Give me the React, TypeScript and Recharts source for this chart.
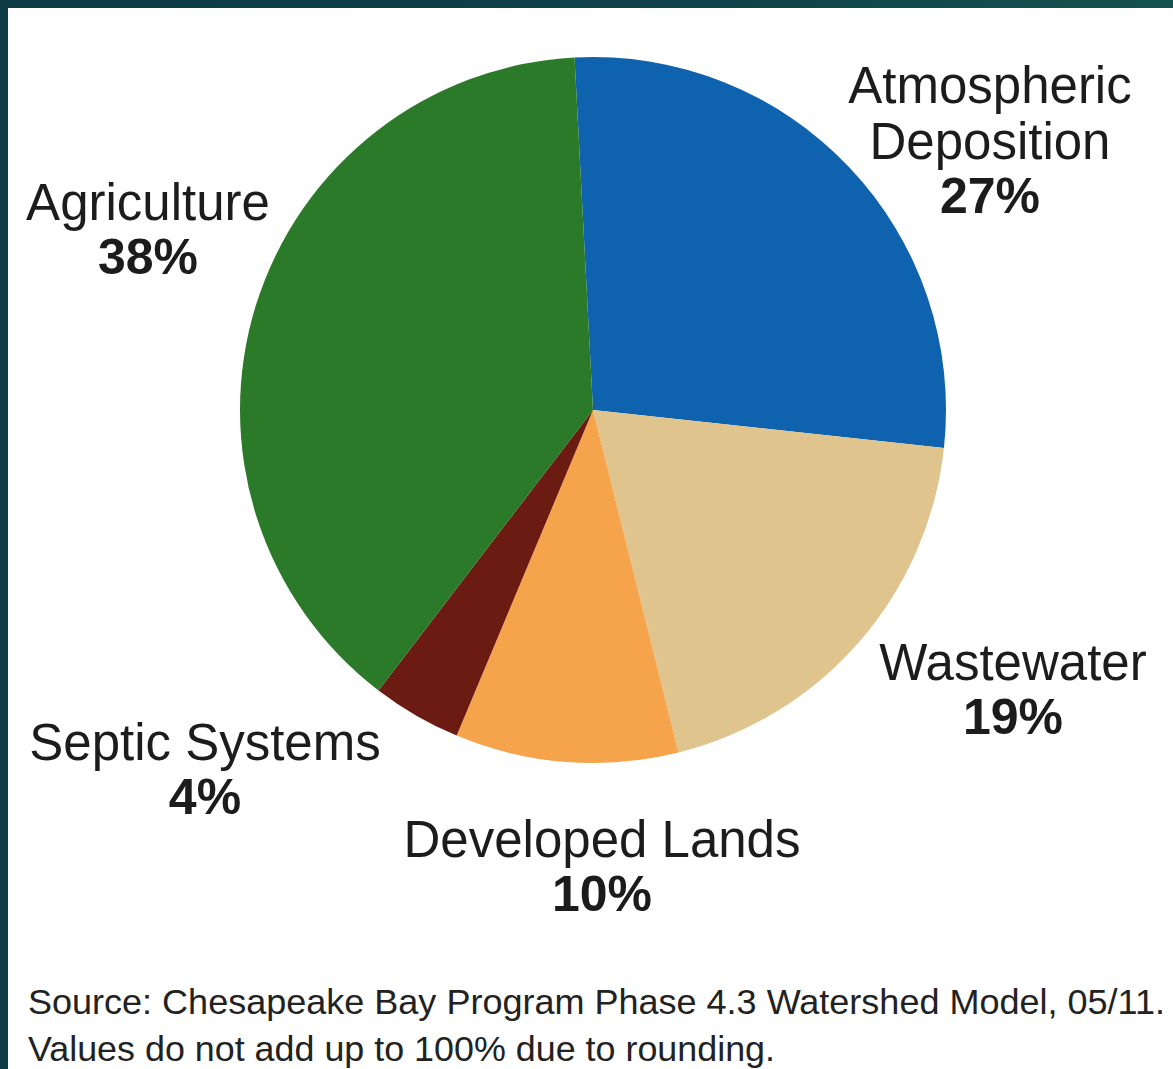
import { PieChart, Pie, Cell } from "recharts";

// Nitrogen sources, Chesapeake Bay watershed (values from the figure, sum 98)
const SOURCES = ["Atmospheric Deposition", "Wastewater", "Developed Lands", "Septic Systems", "Agriculture"];
const SHARES = [27, 19, 10, 4, 38];
const LABEL_LINES = [["Atmospheric", "Deposition"], ["Wastewater"], ["Developed Lands"], ["Septic Systems"], ["Agriculture"]];
const SLICE_COLORS = ["#0f62ae", "#dfc48d", "#f6a44b", "#6b1b12", "#2b7a29"];
const FOOTNOTES = [
  "Source: Chesapeake Bay Program Phase 4.3 Watershed Model, 05/11.",
  "Values do not add up to 100% due to rounding.",
];

const W = 1173;
const H = 1069;
const CX = 593;
const CY = 410;
const R = 353;
const START = 93;

// label placement relative to the pie centre: [dx of text centre, baseline dy of first line]
const LABEL_OFFSETS: [number, number][] = [
  [397, -307],
  [420, 270],
  [9, 447],
  [-388, 350],
  [-445, -190],
];

const LABEL_FONT = "'Liberation Sans', Arial, sans-serif";
const FOOT_FONT = "'Liberation Sans Narrow', 'Liberation Sans', Arial, sans-serif";
const LINE_H = 56;

const data = SOURCES.map((name, i) => ({ name, value: SHARES[i] }));

function SliceLabel(props: any) {
  const { cx, cy, index } = props;
  const [dx, dy] = LABEL_OFFSETS[index];
  const lines = LABEL_LINES[index];
  const x = cx + dx;
  return (
    <g>
      {lines.map((t, j) => (
        <text key={j} x={x} y={cy + dy + j * LINE_H} textAnchor="middle" fontFamily={LABEL_FONT} fontSize={51} fill="#1c1c1c">
          {t}
        </text>
      ))}
      <text x={x} y={cy + dy + lines.length * LINE_H - 2} textAnchor="middle" fontFamily={LABEL_FONT} fontSize={50} fontWeight="bold" fill="#1c1c1c">
        {SHARES[index]}%
      </text>
    </g>
  );
}

export default function App() {
  return (
    <div style={{ position: "fixed", left: 0, top: 0, width: W, height: H, background: "#ffffff", overflow: "hidden" }}>
      <div style={{ position: "absolute", left: 0, top: 0, width: W, height: 8, background: "linear-gradient(90deg, #0e3a45, #0f4248 60%, #14524f)" }} />
      <div style={{ position: "absolute", left: 0, top: 0, width: 8, height: H, background: "#0e3a45" }} />
      <div style={{ position: "absolute", left: 0, top: 0 }}>
        <PieChart width={W} height={H} margin={{ top: 0, right: 0, bottom: 0, left: 0 }}>
          <Pie
            data={data}
            dataKey="value"
            nameKey="name"
            cx={CX}
            cy={CY}
            outerRadius={R}
            startAngle={START}
            endAngle={START - 360}
            stroke="none"
            label={SliceLabel}
            labelLine={false}
            isAnimationActive={false}
          >
            {data.map((_, i) => (
              <Cell key={i} fill={SLICE_COLORS[i]} />
            ))}
          </Pie>
          <text x={28} y={1014} fontFamily={FOOT_FONT} fontSize={35} fill="#222" textLength={1137} lengthAdjust="spacingAndGlyphs">
            {FOOTNOTES[0]}
          </text>
          <text x={28} y={1061} fontFamily={FOOT_FONT} fontSize={35} fill="#222" textLength={747} lengthAdjust="spacingAndGlyphs">
            {FOOTNOTES[1]}
          </text>
        </PieChart>
      </div>
    </div>
  );
}
